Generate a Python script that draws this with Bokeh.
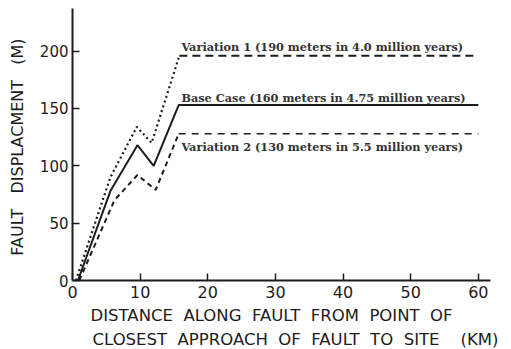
from bokeh.plotting import figure
from bokeh.models import Range1d, FixedTicker, Label, Title
from bokeh.embed import file_html
from bokeh.resources import INLINE

# ---- data ----
base_x = [0.8, 5.6, 9.6, 12.0, 15.7, 60.0]
base_y = [0, 78, 118, 100, 153, 153]
v1_x = [0.5, 5.6, 9.5, 11.7, 15.8, 60.0]
v1_y = [0, 90, 134, 120, 196, 196]
v2_x = [1.0, 6.2, 9.6, 12.3, 15.7, 60.0]
v2_y = [0, 70, 92, 79, 128, 128]

x_ticks = [0, 10, 20, 30, 40, 50, 60]
y_ticks = [0, 50, 100, 150, 200]

label_v1 = "Variation 1 (190 meters in 4.0 million years)"
label_base = "Base Case (160 meters in 4.75 million years)"
label_v2 = "Variation 2 (130 meters in 5.5 million years)"
SP = "\u00a0\u00a0"
xlabel_1 = SP.join(["DISTANCE", "ALONG", "FAULT", "FROM", "POINT", "OF"])
xlabel_2 = SP.join(["CLOSEST", "APPROACH", "OF", "FAULT", "TO", "SITE", "\u00a0\u00a0(KM)"])
ylabel = "\u00a0\u00a0\u00a0".join(["FAULT", "DISPLACMENT", "(M)"]) + "\u00a0"

INK = "#1c1c1c"
X_END, Y_END = 61.8, 237.2

p = figure(width=511, height=349, output_backend="svg", toolbar_location=None,
           x_range=Range1d(0, X_END), y_range=Range1d(0, Y_END),
           min_border_left=72, min_border_right=21, min_border_top=8, min_border_bottom=69,
           background_fill_color="white", border_fill_color="white")
p.outline_line_color = None
p.grid.visible = False

for ax in (p.xaxis[0], p.yaxis[0]):
    ax.axis_line_width = 2
    ax.axis_line_color = INK
    ax.major_tick_line_color = INK
    ax.major_tick_line_width = 1.5
    ax.major_tick_in = 7
    ax.major_tick_out = 0
    ax.minor_tick_line_color = None
    ax.major_label_text_font = "DejaVu Sans"
    ax.major_label_text_color = INK

p.xaxis.ticker = FixedTicker(ticks=x_ticks)
p.yaxis.ticker = FixedTicker(ticks=y_ticks)
p.xaxis.major_label_text_font_size = "16px"
p.yaxis.major_label_text_font_size = "15px"
p.xaxis.major_label_standoff = 5
p.yaxis.major_label_standoff = 4

p.yaxis.axis_label = ylabel
p.yaxis.axis_label_text_font = "DejaVu Sans"
p.yaxis.axis_label_text_font_style = "normal"
p.yaxis.axis_label_text_font_size = "16px"
p.yaxis.axis_label_text_color = INK
p.yaxis.axis_label_standoff = 10

# rising parts and plateaus
p.line(base_x, base_y, line_color=INK, line_width=2)
p.line(v1_x[:5], v1_y[:5], line_color=INK, line_width=2.2, line_dash="2 3")
p.line(v1_x[4:], v1_y[4:], line_color=INK, line_width=2, line_dash="8 5")
p.line(v2_x[:5], v2_y[:5], line_color=INK, line_width=2, line_dash="5 4")
p.line(v2_x[4:], v2_y[4:], line_color=INK, line_width=1.6, line_dash="7 6")

# series annotations
for txt, yy in ((label_v1, v1_y[-1] + 8), (label_base, base_y[-1] + 6), (label_v2, v2_y[-1] - 12)):
    p.add_layout(Label(x=v1_x[4] + 0.3, y=yy, text=txt, text_font="DejaVu Serif",
                       text_font_size="11.3px", text_font_style="bold", text_color="#333333",
                       text_baseline="middle", text_align="left"))

# x axis title: two left aligned lines below the axis
for txt, off, st in ((xlabel_1, 18, 6), (xlabel_2, 20, 0)):
    p.add_layout(Title(text=txt, align="left", offset=off, standoff=st,
                       text_font="DejaVu Sans", text_font_size="16.5px",
                       text_font_style="normal", text_color=INK), "below")

open("out.html", "w").write(file_html(p, INLINE))
